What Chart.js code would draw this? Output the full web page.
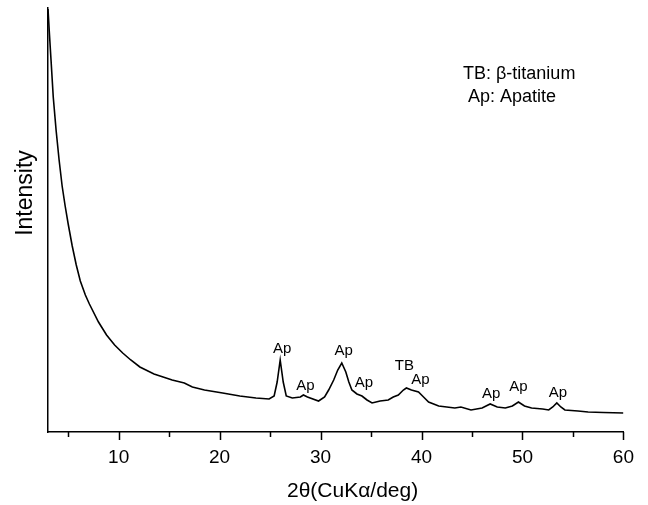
<!DOCTYPE html>
<html><head><meta charset="utf-8">
<script src="https://cdn.jsdelivr.net/npm/chart.js@4.4.1/dist/chart.umd.min.js"></script>
<style>html,body{margin:0;padding:0;background:#fff}#wrap{width:648px;height:505px}</style>
</head><body><div id="wrap"><canvas id="c" width="648" height="505"></canvas></div>
<script>
const twoTheta = [3.0,3.13,3.3,3.52,3.8,4.1,4.4,4.7,5.0,5.4,5.8,6.2,6.7,7.1,8.0,8.8,9.6,10.4,11.2,12.1,13.5,15.3,16.5,17.3,18.5,20.3,22.0,23.6,24.9,25.4,25.7,26.0,26.3,26.6,27.2,28.0,28.3,28.7,29.8,30.4,30.8,31.3,31.7,32.1,32.5,32.8,33.1,33.6,34.1,34.6,35.1,35.9,36.7,37.2,37.7,38.2,38.5,39.0,39.7,40.2,40.7,41.7,42.5,43.3,43.9,44.9,46.0,46.8,47.5,48.3,49.0,49.6,50.2,50.9,52.0,52.6,53.0,53.4,53.8,54.2,55.5,56.5,58.0,60.0];
const intensity = [423,400,372,335,302,272,246,226,208,186,167,151,137,128,110,97,87,79,72,65,58,52,49,45,42,39,36,34,33,36,50,72,50,36,34,35,37,35,31,35,42,52,62,69,60,50,42,38,36,32,29,31,32,35,37,42,44,42,40,35,30,26,25,24,25,22,24,28,25,24,26,30,26,24,23,22,25,29,25,22,21,20,19.5,19];
const peakLabels = ["Ap","Ap","Ap","Ap","TB","Ap","Ap","Ap","Ap"];
const peakX = [26.2,28.5,32.3,34.3,38.3,39.9,46.9,49.6,53.5];
const peakY = [79,42,77,45,62,48,34,41,35];
const legendLines = ["TB: β-titanium","Ap: Apatite"];
const xTicks = [5,10,15,20,25,30,35,40,45,50,55,60];

const FONT = "'Liberation Sans', Arial, sans-serif";
const deco = {
  id:'deco',
  afterDraw(chart){
    const ctx = chart.ctx, xs = chart.scales.x, ys = chart.scales.y, a = chart.chartArea;
    ctx.save();
    ctx.strokeStyle = '#000'; ctx.lineWidth = 1.5;
    xTicks.forEach(v=>{
      const px = Math.round(xs.getPixelForValue(v))+0.5;
      const len = (v%10===0)?8:5;
      ctx.beginPath(); ctx.moveTo(px,a.bottom); ctx.lineTo(px,a.bottom+len); ctx.stroke();
    });
    ctx.fillStyle = '#000';
    ctx.font = '15px '+FONT; ctx.textAlign='center'; ctx.textBaseline='alphabetic';
    peakLabels.forEach((t,i)=>{
      ctx.fillText(t, xs.getPixelForValue(peakX[i]), ys.getPixelForValue(peakY[i]));
    });
    ctx.textAlign='left';
    ctx.font = '18px '+FONT;
    ctx.fillText(legendLines[0], 463, 79);
    ctx.fillText(legendLines[1], 468, 102);
    ctx.font = '21px '+FONT; ctx.textAlign='left'; ctx.textBaseline='alphabetic';
    ctx.fillText('2θ(CuKα/deg)', 287, 497);
    ctx.textAlign='center'; ctx.textBaseline='middle';
    ctx.translate(26,193); ctx.rotate(-Math.PI/2);
    ctx.font = '23px '+FONT;
    ctx.fillText('Intensity', 0, 0);
    ctx.restore();
  }
};

new Chart(document.getElementById('c'), {
  type:'line',
  data:{datasets:[{data: twoTheta.map((x,i)=>({x, y:intensity[i]})), borderColor:'#000', borderWidth:1.6, pointRadius:0, tension:0, fill:false}]},
  options:{
    responsive:false, animation:false, events:[],
    layout:{padding:{top:8,right:21,left:0,bottom:0}},
    plugins:{legend:{display:false}, tooltip:{enabled:false}},
    scales:{
      x:{type:'linear', min:3, max:60,
        afterBuildTicks(s){ s.ticks = xTicks.map(v=>({value:v})); },
        afterFit(s){ s.height = 73; },
        grid:{display:false, drawTicks:false},
        border:{display:true, color:'#000', width:1.5},
        ticks:{padding:14, color:'#000', font:{family:FONT, size:19}, maxRotation:0, autoSkip:false,
          callback:(v)=> (v%10===0)? String(v) : ''}
      },
      y:{type:'linear', min:0, max:424,
        afterFit(s){ s.width = 48; },
        grid:{display:false, drawTicks:false},
        border:{display:true, color:'#000', width:1.5},
        ticks:{display:false}
      }
    }
  },
  plugins:[deco]
});
</script></body></html>
